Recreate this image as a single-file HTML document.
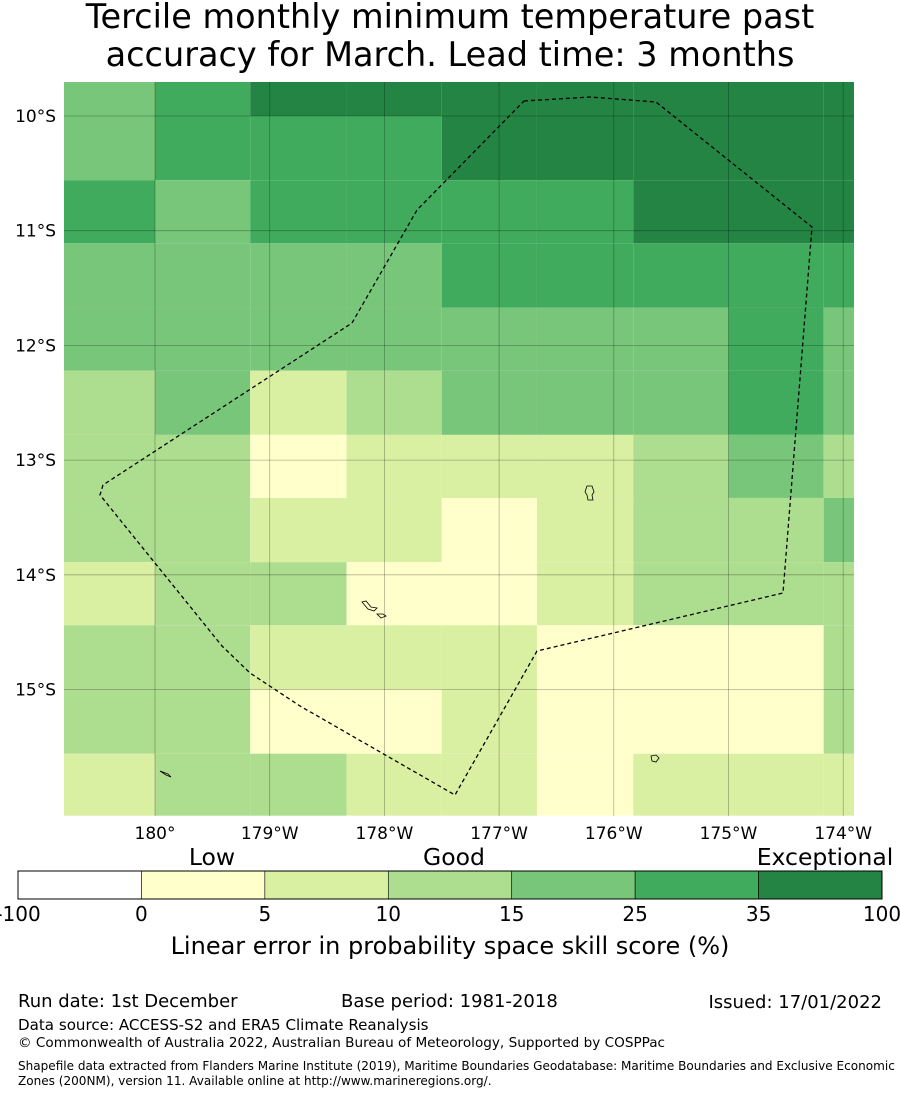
<!DOCTYPE html>
<html><head><meta charset="utf-8"><style>
body{margin:0;background:#fff;width:900px;height:1095px;overflow:hidden;font-family:"DejaVu Sans","Liberation Sans",sans-serif;}
svg text{font-family:"DejaVu Sans","Liberation Sans",sans-serif;}
</style></head><body>
<svg id="chart" width="900" height="1095" xmlns="http://www.w3.org/2000/svg">
<text x="450" y="28" font-size="33.5" text-anchor="middle">Tercile monthly minimum temperature past</text>
<text x="450" y="66" font-size="33.5" text-anchor="middle">accuracy for March. Lead time: 3 months</text>
<g id="cells"></g>
<g id="grid"></g>
<polyline fill="none" stroke="#000" stroke-width="1.3" stroke-dasharray="4,3"
 points="524,101 590,97 656,102 812,227 783,593 537,651 455,795 300,706 250,673 222,646 100,495 103,485 352,323 417,210 524,101"/>
<g fill="none" stroke="#000" stroke-width="0.8">
<path d="M587,486 l5,0 l2,6 l-2,3 l1,5 l-5,0 l-1,-5 l-2,-3 z"/>
<path d="M362,602 l4,-1 l5,6 l6,1 l-3,3 l-6,-2 z"/>
<path d="M377,614 l6,0 l3,2 l-5,2 z"/>
<path d="M651,756 l5,-1 l3,3 l-3,4 l-4,-1 z"/>
<path d="M160,771 l8,3 l3,3 l-5,-2 z"/>
</g>
<g id="axes"></g>
<g id="cbar"></g>
<text x="212" y="865" font-size="23.5" text-anchor="middle">Low</text>
<text x="454" y="865" font-size="23.5" text-anchor="middle">Good</text>
<text x="825" y="865" font-size="23.5" text-anchor="middle">Exceptional</text>
<text x="450" y="954" font-size="24" text-anchor="middle">Linear error in probability space skill score (%)</text>
<text x="18" y="1007" font-size="18">Run date: 1st December</text>
<text x="341" y="1007" font-size="18">Base period: 1981-2018</text>
<text x="882" y="1008" font-size="18" text-anchor="end">Issued: 17/01/2022</text>
<text x="18" y="1030" font-size="15.1">Data source: ACCESS-S2 and ERA5 Climate Reanalysis</text>
<text x="18" y="1047" font-size="13.6">© Commonwealth of Australia 2022, Australian Bureau of Meteorology, Supported by COSPPac</text>
<text x="18" y="1070" font-size="12.05">Shapefile data extracted from Flanders Marine Institute (2019), Maritime Boundaries Geodatabase: Maritime Boundaries and Exclusive Economic</text>
<text x="18" y="1085" font-size="12.05">Zones (200NM), version 11. Available online at http://www.marineregions.org/.</text>
</svg>
<script>
const colBounds=[180.8,180,179.17,178.33,177.5,176.67,175.83,175,174.17,173.9];
const rowBounds=[-9.7,-10,-10.56,-11.11,-11.67,-12.22,-12.78,-13.33,-13.89,-14.44,-15,-15.56,-16.1];
const levels=[
[4,5,6,6,6,6,6,6,6],
[4,5,5,5,6,6,6,6,6],
[5,4,5,5,5,5,6,6,6],
[4,4,4,4,5,5,5,5,5],
[4,4,4,4,4,4,4,5,4],
[3,4,2,3,4,4,4,5,4],
[3,3,1,2,2,2,3,4,3],
[3,3,2,2,1,2,3,3,4],
[2,3,3,1,1,2,3,3,3],
[3,3,2,2,2,1,1,1,3],
[3,3,1,1,2,1,1,1,3],
[2,3,3,2,2,1,2,2,2]];
const colors=["#ffffff","#ffffcc","#d9f0a3","#addd8e","#78c679","#41ab5d","#238443"];
const lonTicks=[180,179,178,177,176,175,174];
const lonLabels=["180°","179°W","178°W","177°W","176°W","175°W","174°W"];
const latTicks=[-10,-11,-12,-13,-14,-15];
const latLabels=["10°S","11°S","12°S","13°S","14°S","15°S"];
const cbarTicks=["-100","0","5","10","15","25","35","100"];
const NS="http://www.w3.org/2000/svg";
const X=w=>155+(180-w)*114.7;
const Y=lat=>116+(-10-lat)*114.7;
const L=64,R=854,T=82,B=816;
const clampX=v=>Math.max(L,Math.min(R,v)), clampY=v=>Math.max(T,Math.min(B,v));
function mk(tag,attrs,parent){const e=document.createElementNS(NS,tag);for(const k in attrs)e.setAttribute(k,attrs[k]);parent.appendChild(e);return e;}
const cells=document.getElementById('cells');
levels.forEach((row,r)=>row.forEach((lv,c)=>{
 const x0=clampX(X(colBounds[c])),x1=clampX(X(colBounds[c+1]));
 const y0=clampY(Y(rowBounds[r])),y1=clampY(Y(rowBounds[r+1]));
 const e=mk('rect',{x:x0,y:y0,width:x1-x0,height:y1-y0,fill:colors[lv]},cells);
 
 
}));
const grid=document.getElementById('grid'),axes=document.getElementById('axes');
lonTicks.forEach((t,i)=>{
 const x=X(t);
 const l=mk('line',{x1:x,x2:x,y1:T,y2:B,stroke:"#000","stroke-opacity":0.3,"stroke-width":0.8},grid);
 
 
 const tx=mk('text',{x:x,y:839,"font-size":17,"text-anchor":"middle"},axes);
 tx.textContent=lonLabels[i];
 
 
});
latTicks.forEach((t,i)=>{
 const y=Y(t);
 const l=mk('line',{x1:L,x2:R,y1:y,y2:y,stroke:"#000","stroke-opacity":0.3,"stroke-width":0.8},grid);
 
 
 const tx=mk('text',{x:56,y:y+6,"font-size":17,"text-anchor":"end"},axes);
 tx.textContent=latLabels[i];
 
 
});
const cb=document.getElementById('cbar');
const cbL=18,cbR=882,seg=(cbR-cbL)/(cbarTicks.length-1);
colors.forEach((c,i)=>{
 const e=mk('rect',{x:cbL+i*seg,y:871,width:seg,height:28,fill:c,stroke:"#000","stroke-width":0.6},cb);
 
 
});
mk('rect',{x:cbL,y:871,width:cbR-cbL,height:28,fill:"none",stroke:"#000","stroke-width":1},cb);
cbarTicks.forEach((t,i)=>{
 const tx=mk('text',{x:cbL+i*seg,y:921,"font-size":20,"text-anchor":"middle"},cb);
 tx.textContent=t;
 
 
});
</script>
</body></html>
